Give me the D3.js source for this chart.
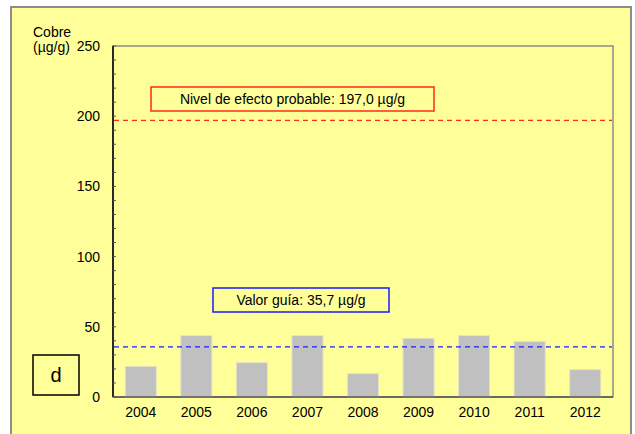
<!DOCTYPE html>
<html>
<head>
<meta charset="utf-8">
<script src="https://cdn.jsdelivr.net/npm/d3@7"></script>
<style>
  html, body { margin: 0; padding: 0; background: #ffffff; }
  svg { display: block; font-family: Arial, "Liberation Sans", sans-serif; }
</style>
</head>
<body>
<svg id="chart" width="635" height="434"></svg>
<script>
// Copper concentration in sediment by year (µg/g)
const years = ["2004", "2005", "2006", "2007", "2008", "2009", "2010", "2011", "2012"];
const cobre = [21.8, 43.8, 24.5, 43.8, 16.7, 41.8, 43.8, 39.6, 19.5];
const yTicks = [0, 50, 100, 150, 200, 250];
const nivelEfecto = 197.0;   // probable effect level
const valorGuia = 35.7;      // guideline value

const svg = d3.select("#chart");
const W = 635, H = 434;
const plot = { left: 113, right: 613, top: 46, bottom: 397 };

// outer panel
svg.append("rect").attr("x", 0).attr("y", 0).attr("width", W).attr("height", H).attr("fill", "#ffffff");
svg.append("rect")
  .attr("x", 11).attr("y", 7).attr("width", 620).attr("height", H + 10)
  .attr("fill", "#ffff99").attr("stroke", "#8c8c8c").attr("stroke-width", 2);

const x = d3.scaleBand().domain(years).range([plot.left, plot.right]).paddingInner(0.44).paddingOuter(0.22);
const y = d3.scaleLinear().domain([0, 250]).range([plot.bottom, plot.top]);

// plot frame (top/right in gray)
svg.append("rect")
  .attr("x", plot.left).attr("y", plot.top)
  .attr("width", plot.right - plot.left).attr("height", plot.bottom - plot.top)
  .attr("fill", "#ffff99").attr("stroke", "#8c8c8c").attr("stroke-width", 1.5);

// bars
svg.append("g").selectAll("rect").data(years).join("rect")
  .attr("x", d => x(d))
  .attr("y", (d, i) => y(cobre[i]))
  .attr("width", x.bandwidth())
  .attr("height", (d, i) => y(0) - y(cobre[i]))
  .attr("fill", "#c0c0c0")
  .attr("stroke", "#e4e4c4").attr("stroke-width", 1);

// reference lines
function refLine(v, color) {
  svg.append("line")
    .attr("x1", plot.left + 1).attr("x2", plot.right - 1)
    .attr("y1", y(v)).attr("y2", y(v))
    .attr("stroke", color).attr("stroke-width", 1.3)
    .attr("stroke-dasharray", "5,4");
}
refLine(nivelEfecto, "#ff2a1a");
refLine(valorGuia, "#1a1aff");

// y axis with inside minor ticks every 10
const yAxis = svg.append("g").attr("transform", `translate(${plot.left},0)`);
yAxis.append("line").attr("x1", 0).attr("x2", 0).attr("y1", plot.top).attr("y2", plot.bottom)
  .attr("stroke", "#000").attr("stroke-width", 1.5);
yAxis.selectAll("line.minor").data(d3.range(0, 251, 10)).join("line")
  .attr("class", "minor")
  .attr("x1", 0).attr("x2", 3)
  .attr("y1", d => y(d)).attr("y2", d => y(d))
  .attr("stroke", "#555").attr("stroke-width", 1);
yAxis.selectAll("text").data(yTicks).join("text")
  .attr("x", -13).attr("y", d => y(d) + 5)
  .attr("text-anchor", "end")
  .attr("font-size", 14).attr("fill", "#000")
  .text(d => d);

// x axis
svg.append("line").attr("x1", plot.left).attr("x2", plot.right)
  .attr("y1", plot.bottom).attr("y2", plot.bottom)
  .attr("stroke", "#555").attr("stroke-width", 1.5);
svg.append("g").selectAll("text").data(years).join("text")
  .attr("x", d => x(d) + x.bandwidth() / 2)
  .attr("y", plot.bottom + 20)
  .attr("text-anchor", "middle")
  .attr("font-size", 14).attr("fill", "#000")
  .text(d => d);

// axis title
svg.append("text").attr("x", 33).attr("y", 37).attr("font-size", 14).text("Cobre");
svg.append("text").attr("x", 33).attr("y", 52).attr("font-size", 14).text("(µg/g)");

// annotation boxes
function labelBox(x0, y0, w, h, color, txt, size) {
  svg.append("rect").attr("x", x0).attr("y", y0).attr("width", w).attr("height", h)
    .attr("fill", "#ffff99").attr("stroke", color).attr("stroke-width", 1.5);
  svg.append("text").attr("x", x0 + w / 2).attr("y", y0 + h / 2 + size * 0.36)
    .attr("text-anchor", "middle").attr("font-size", size).attr("fill", "#000").text(txt);
}
labelBox(151, 87, 283, 24, "#ff2a1a", "Nivel de efecto probable: " + d3.format(".1f")(nivelEfecto).replace(".", ",") + " µg/g", 14);
labelBox(213, 288, 176, 24, "#1a1aff", "Valor guía: " + d3.format(".1f")(valorGuia).replace(".", ",") + " µg/g", 14);
labelBox(33, 355, 46, 40, "#000", "d", 20);
</script>
</body>
</html>
